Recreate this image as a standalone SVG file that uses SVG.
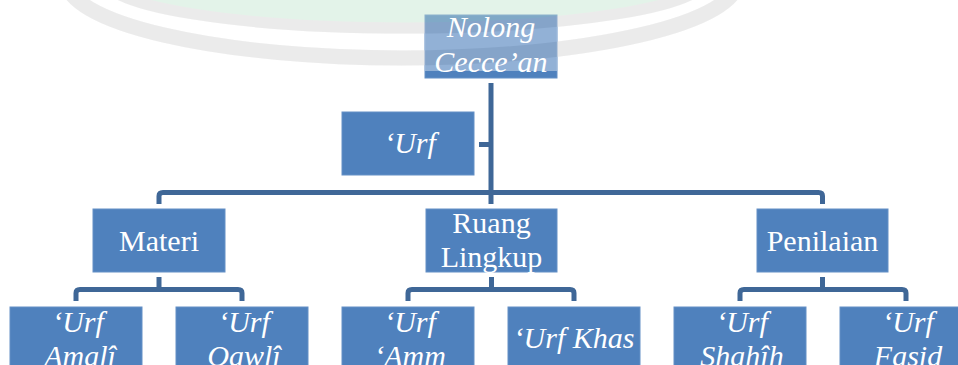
<svg xmlns="http://www.w3.org/2000/svg" width="958" height="365" viewBox="0 0 958 365">
<style>
.box{fill:#4F81BD;stroke:#6590C6;stroke-width:1}
.t{font-family:"Liberation Serif","Times New Roman",serif;font-size:30px;fill:#FFFFFF;text-anchor:middle}
.i{font-style:italic}
.c{fill:none;stroke:#3F6797;stroke-width:5;stroke-linejoin:round;stroke-linecap:butt}
.wg{fill:#D0EBD9}
.wb{fill:none;stroke:#DEDEDE}
</style>
<rect width="958" height="365" fill="#FFFFFF"/>
<g id="watermark-bg" opacity="0.3">
<ellipse class="wg" cx="405" cy="-20" rx="296" ry="44"/>
<ellipse class="wb" cx="405" cy="-20" rx="300" ry="48" stroke-width="11"/>
<ellipse class="wb" cx="402" cy="-20" rx="336" ry="78" stroke-width="15"/>
</g>
<g id="connectors">
<path class="c" d="M491,83 V204"/>
<path class="c" d="M479,144.5 H491"/>
<path class="c" d="M159,204 V196 Q159,192.5 163,192.5 H818.5 Q822.5,192.5 822.5,196 V204"/>
<path class="c" d="M159,277 V289.5"/>
<path class="c" d="M76,301 V293 Q76,289.5 80,289.5 H238 Q242,289.5 242,293 V301"/>
<path class="c" d="M491.5,277 V289.5"/>
<path class="c" d="M408,301 V293 Q408,289.5 412,289.5 H570 Q574,289.5 574,293 V301"/>
<path class="c" d="M822.5,277 V289.5"/>
<path class="c" d="M740,301 V293 Q740,289.5 744,289.5 H902 Q906,289.5 906,293 V301"/>
</g>
<g id="node-nolong">
<rect class="box" x="425" y="15" width="132" height="63"/>
<g opacity="0.38">
<rect x="425" y="15" width="132" height="56" fill="#FFFFFF"/>
<ellipse class="wg" cx="405" cy="-20" rx="296" ry="44"/>
<ellipse class="wb" cx="405" cy="-20" rx="300" ry="48" stroke-width="11"/>
<ellipse class="wb" cx="402" cy="-20" rx="336" ry="78" stroke-width="15"/>
</g>
<text class="t i" x="491" y="37">Nolong</text>
<text class="t i" x="491" y="72">Cecce’an</text>
</g>
<g id="node-urf">
<rect class="box" x="342" y="112" width="132" height="63"/>
<text class="t i" x="410" y="153">‘Urf</text>
</g>
<g id="node-materi">
<rect class="box" x="93" y="209" width="132" height="63"/>
<text class="t" x="159" y="251">Materi</text>
</g>
<g id="node-ruang">
<rect class="box" x="426" y="209" width="131" height="63"/>
<text class="t" x="491.5" y="233">Ruang</text>
<text class="t" x="491.5" y="267">Lingkup</text>
</g>
<g id="node-penilaian">
<rect class="box" x="757" y="209" width="131" height="63"/>
<text class="t" x="822.5" y="251">Penilaian</text>
</g>
<g id="node-amali">
<rect class="box" x="10" y="307" width="132" height="63"/>
<text class="t i" x="78" y="332">‘Urf</text>
<text class="t i" x="80" y="366">Amalî</text>
</g>
<g id="node-qawli">
<rect class="box" x="176" y="307" width="132" height="63"/>
<text class="t i" x="244" y="332">‘Urf</text>
<text class="t i" x="244" y="366">Qawlî</text>
</g>
<g id="node-amm">
<rect class="box" x="342" y="307" width="132" height="63"/>
<text class="t i" x="410" y="332">‘Urf</text>
<text class="t i" x="410" y="366">‘Amm</text>
</g>
<g id="node-khas">
<rect class="box" x="508" y="307" width="132" height="63"/>
<text class="t i" x="574" y="348">‘Urf Khas</text>
</g>
<g id="node-shahih">
<rect class="box" x="674" y="307" width="132" height="63"/>
<text class="t i" x="742" y="332">‘Urf</text>
<text class="t i" x="742" y="366">Shahîh</text>
</g>
<g id="node-fasid">
<rect class="box" x="840" y="307" width="132" height="63"/>
<text class="t i" x="908" y="332">‘Urf</text>
<text class="t i" x="908" y="366">Fasid</text>
</g>
</svg>
